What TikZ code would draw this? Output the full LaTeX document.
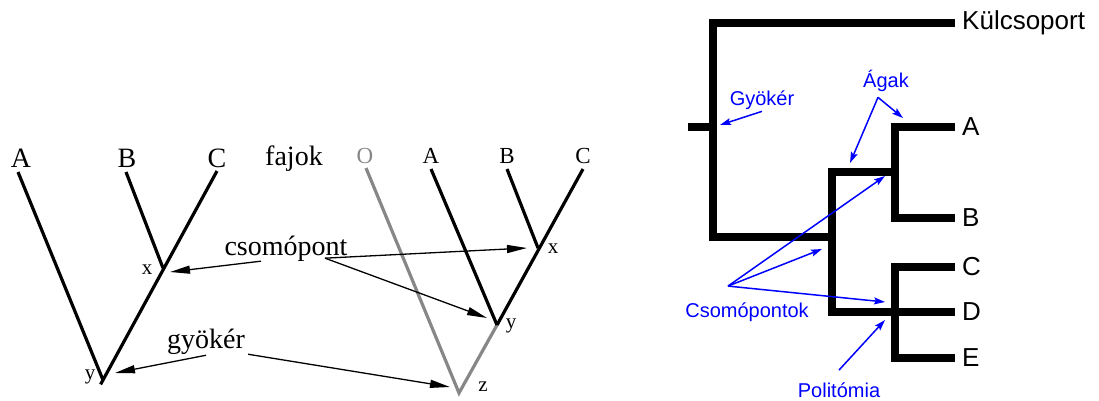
\documentclass[tikz,border=0pt]{standalone}
\usepackage{fontspec}
\setmainfont{Liberation Serif}
\newfontfamily\arialfont{Liberation Sans}
\usetikzlibrary{arrows.meta}

\begin{document}
\begin{tikzpicture}[
    x=1pt, y=-1pt,
    % Estilo para las ramas de los árboles en V
    branch/.style={line width=3.2pt, black},
    outbranch/.style={line width=3.2pt, black!47},
    % Estilo para las etiquetas de los árboles en V
    bigtag/.style={font=\fontsize{28}{28}\selectfont, inner sep=0pt},
    midtag/.style={font=\fontsize{23}{23}\selectfont, inner sep=0pt},
    smalltag/.style={font=\fontsize{21}{21}\selectfont, inner sep=0pt},
    % Flechas negras
    pointer/.style={line width=1.3pt, -{Triangle[length=20pt,width=8pt]}},
    % Estilo del cladograma rectangular
    clade/.style={line width=8pt, black},
    leaf/.style={font=\arialfont\fontsize{26}{26}\selectfont, anchor=west,
        inner xsep=7pt, inner ysep=0pt},
    % Etiquetas y flechas azules
    bluetag/.style={font=\arialfont\fontsize{20}{20}\selectfont, text=blue,
        anchor=base, inner sep=2pt},
    bluearrow/.style={line width=1.5pt, blue, -{Stealth[length=11pt,width=7pt,inset=2pt]}}
]
    % Marco de la figura
    \useasboundingbox (0,0) rectangle (1099,400);

    % ----- Árbol izquierdo -----
    \coordinate (lA) at (18,172);
    \coordinate (lB) at (126,172);
    \coordinate (lC) at (217,171);
    \coordinate (lx) at (163,268);
    \coordinate (ly) at (103,380);

    \draw[branch] (lA) -- (ly);
    \draw[branch] (lB) -- (lx);
    \draw[branch, shorten >=-5pt] (lC) -- (ly);

    \node[bigtag, anchor=base] (tlA) at (21,167) {A};
    \node[bigtag, anchor=base] (tlB) at (127,167) {B};
    \node[bigtag, anchor=base] (tlC) at (217,167) {C};
    \node[bigtag, anchor=base] (faj) at (294,165) {fajok};
    \node[smalltag] (tlx) at (147,270) {x};
    \node[smalltag] (tly) at (90,377) {y};

    % ----- Árbol derecho con grupo externo -----
    \coordinate (rO) at (366,168);
    \coordinate (rA) at (431,169);
    \coordinate (rB) at (507,169);
    \coordinate (rC) at (583,169);
    \coordinate (rx) at (538,248);
    \coordinate (ry) at (497,325);
    \coordinate (rz) at (459,393);

    \draw[outbranch] (rO) -- (rz) -- (ry);
    \draw[branch] (rA) -- (ry);
    \draw[branch] (rB) -- (rx);
    \draw[branch] (rC) -- (ry);

    \node[midtag, anchor=base, text=black!47] (trO) at (365,163) {O};
    \node[midtag, anchor=base] (trA) at (431,163) {A};
    \node[midtag, anchor=base] (trB) at (507,163) {B};
    \node[midtag, anchor=base] (trC) at (583,163) {C};
    \node[smalltag] (trx) at (553,249) {x};
    \node[smalltag] (try) at (511,326) {y};
    \node[smalltag] (trz) at (483,387) {z};

    % ----- Rótulos con flechas -----
    \node[bigtag, anchor=base] (cs) at (286,255) {csomópont};
    \node[bigtag, anchor=base] (gy) at (206,348) {gyökér};

    \draw[pointer] ([xshift=-25pt]cs.south) -- ([xshift=7pt,yshift=-4pt]lx);
    \draw[pointer] ([xshift=39pt,yshift=3pt]cs.south) -- ([xshift=-11pt]rx);
    \draw[pointer] ([xshift=39pt,yshift=3pt]cs.south) -- ([xshift=-10pt,yshift=7pt]ry);
    \draw[pointer] ([yshift=-1pt]gy.south) -- ([xshift=12pt,yshift=7pt]ly);
    \draw[pointer] ([xshift=3pt]gy.south east) -- ([xshift=-9pt,yshift=6pt]rz);

    % ----- Cladograma rectangular -----
    \coordinate (stub) at (688,127);
    \coordinate (root) at (713,127);
    \coordinate (nABCDE) at (832,237);
    \coordinate (nAB) at (895,172);
    \coordinate (nCDE) at (895,312);

    \node[leaf] (kul) at (955,23) {Külcsoport};
    \node[leaf] (cA) at (955,127) {A};
    \node[leaf] (cB) at (955,218) {B};
    \node[leaf] (cC) at (955,267) {C};
    \node[leaf] (cD) at (955,312) {D};
    \node[leaf] (cE) at (955,358) {E};

    \draw[clade] (stub) -- (root);
    \draw[clade] (kul.west) -| (root) |- (nABCDE);
    \draw[clade] (nAB) -| (nABCDE) |- (nCDE);
    \draw[clade] (cA.west) -| (nAB) |- (cB.west);
    \draw[clade] (cC.west) -| (nCDE) |- (cE.west);
    \draw[clade] (nCDE) -- (cD.west);

    % Rótulos azules
    \node[bluetag] (gyo) at (762,105) {Gyökér};
    \node[bluetag] (aga) at (886,87) {Ágak};
    \node[bluetag] (cso) at (747,317) {Csomópontok};
    \node[bluetag] (pol) at (839,397) {Politómia};

    \draw[bluearrow] (gyo.south) -- ([xshift=7pt,yshift=2pt]root);
    \draw[bluearrow] ([xshift=-8pt,yshift=-4pt]aga.south) -- ([xshift=-45pt,yshift=9pt]nAB);
    \draw[bluearrow] ([xshift=-8pt,yshift=-4pt]aga.south) -- ([xshift=8pt,yshift=54pt]nAB);
    \draw[bluearrow] ([xshift=-19pt,yshift=14pt]cso.north) -- ([xshift=-10pt,yshift=-4pt]nAB);
    \draw[bluearrow] ([xshift=-19pt,yshift=14pt]cso.north) -- ([xshift=-10pt,yshift=-12pt]nABCDE);
    \draw[bluearrow] ([xshift=-19pt,yshift=14pt]cso.north) -- ([xshift=-10pt,yshift=10pt]nCDE);
    \draw[bluearrow] ([yshift=10pt]pol.north) -- ([xshift=-10pt,yshift=-8pt]nCDE);
\end{tikzpicture}
\end{document}
